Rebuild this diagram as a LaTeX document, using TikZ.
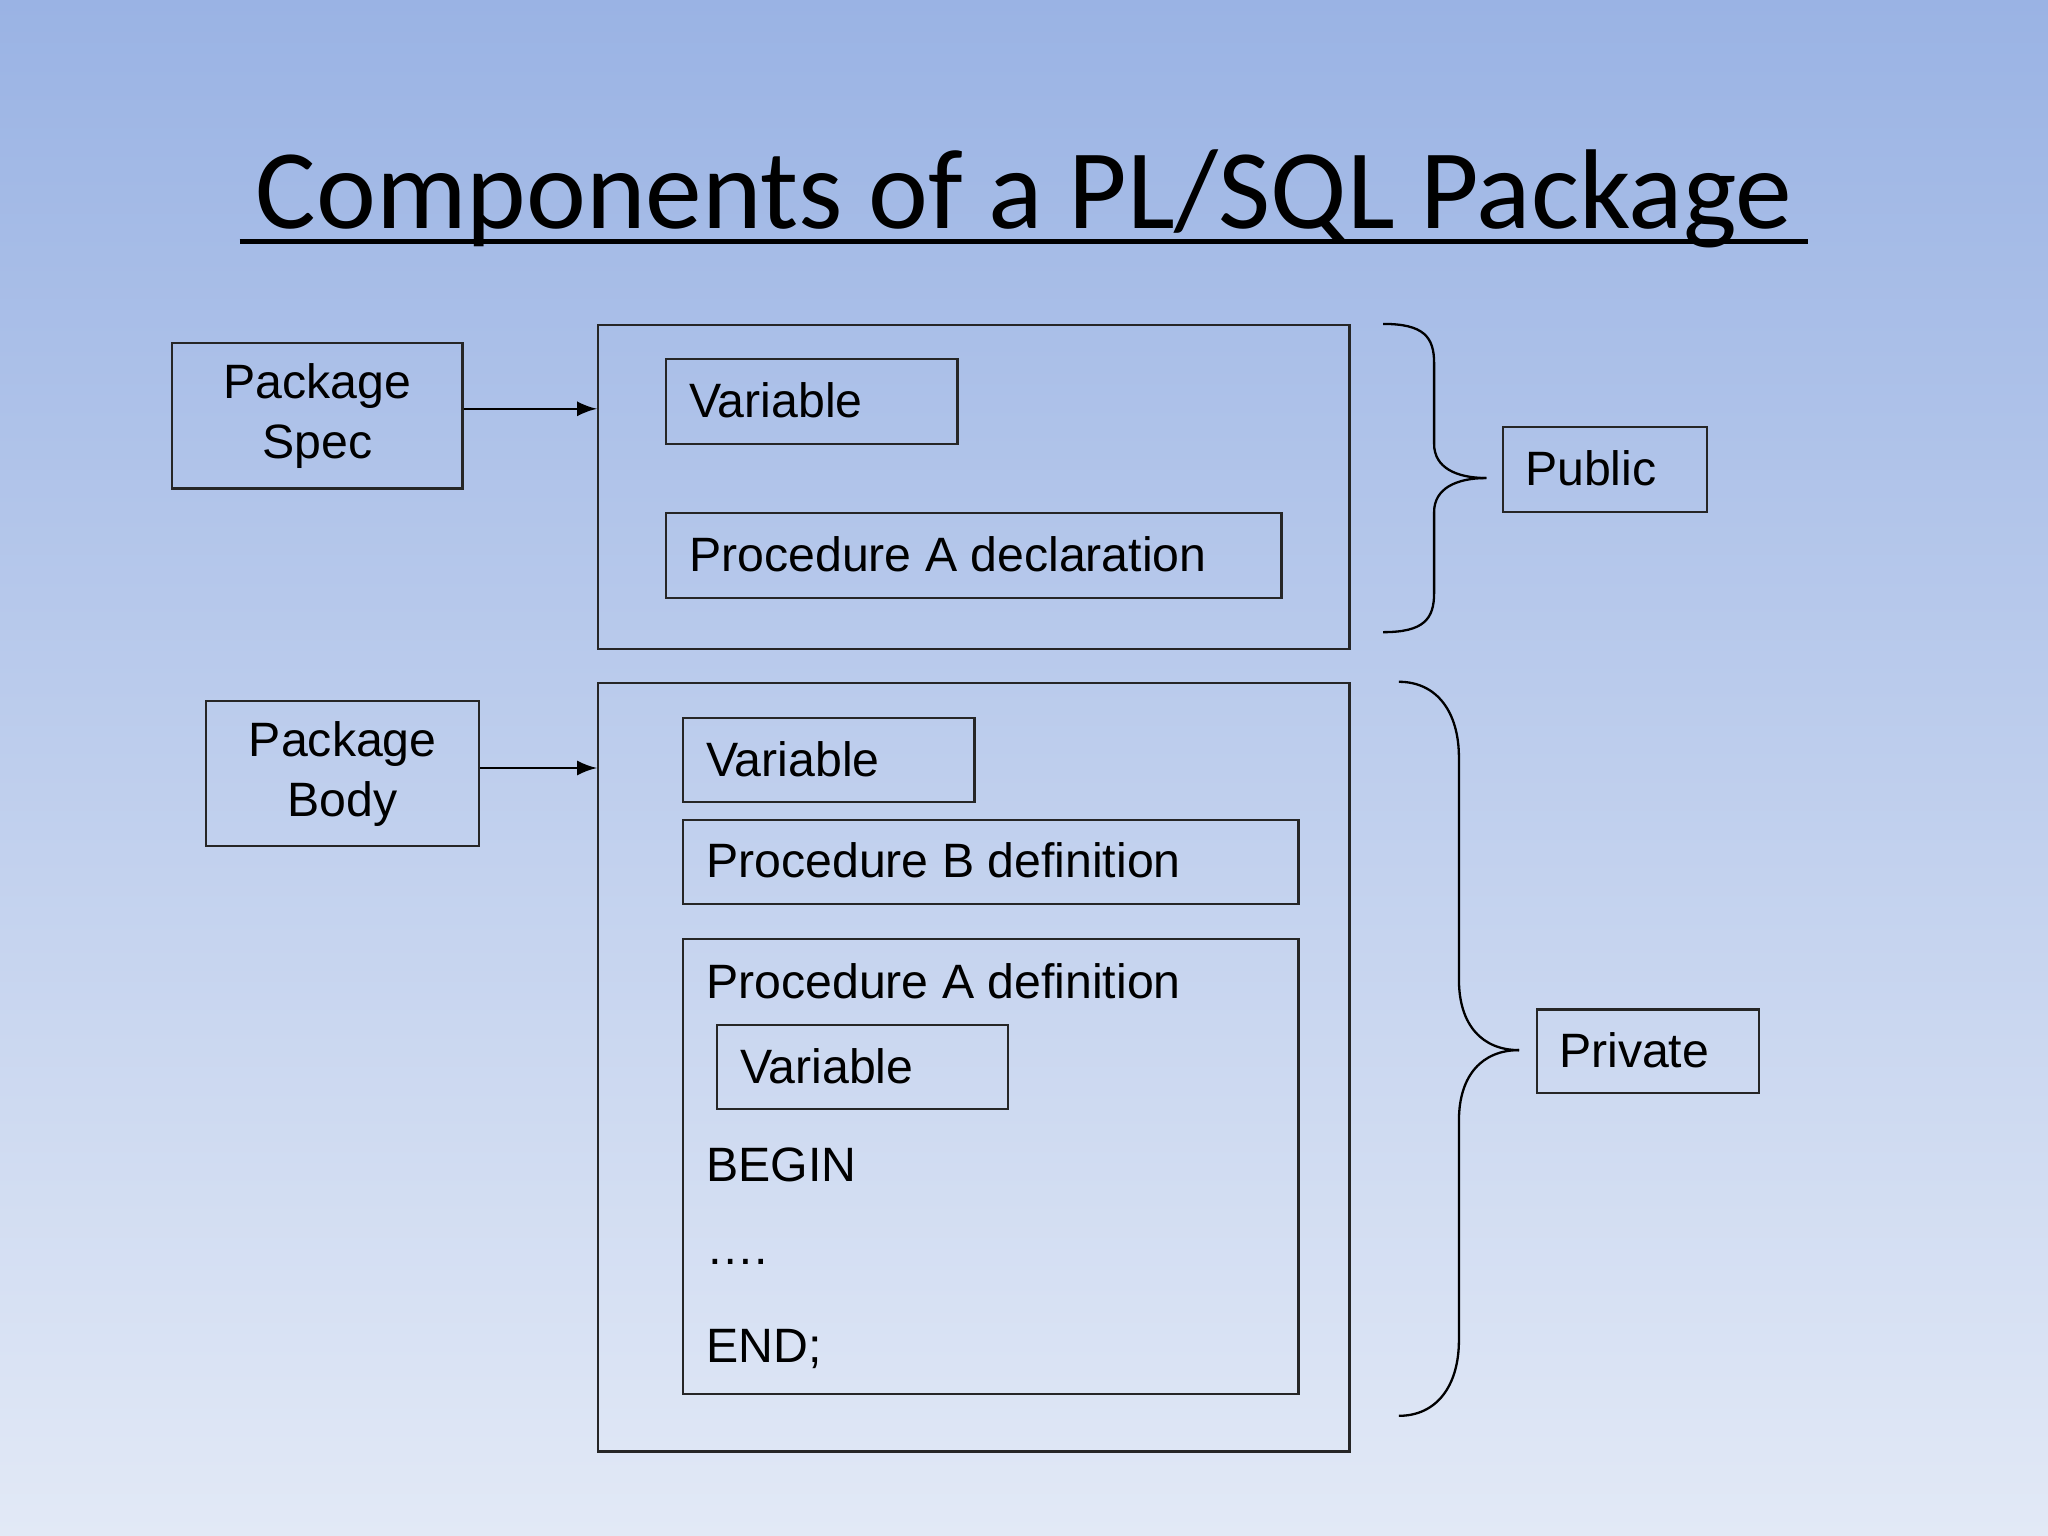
\documentclass[tikz,border=0pt]{standalone}
\usepackage{fontspec}
\setmainfont{Liberation Sans}
\newfontfamily\titlefont{Carlito}
\begin{document}
\begin{tikzpicture}[x=0.01cm,y=-0.01cm,
  box/.style={draw=black!85,line width=0.5pt,anchor=north west,inner sep=0pt},
  lbl/.style={font=\fontsize{10.5}{12.5}\selectfont,anchor=west,inner sep=0pt},
  arr/.style={-latex,line width=0.5pt},
  brace/.style={line width=0.5pt}]
\shade[top color={rgb,255:red,154;green,179;blue,228},bottom color={rgb,255:red,226;green,233;blue,246}] (0,0) rectangle (1568,1176);
\useasboundingbox (0,0) rectangle (1568,1176);
\node[font=\titlefont\fontsize{24.7}{28}\selectfont,anchor=base] (title) at (784,175) {Components of a PL/SQL Package};
\draw[line width=1.1pt] (title.west |- 0,185) -- (title.east |- 0,185);
% spec
\node[box,minimum width=22.2mm,minimum height=11.1mm,align=center,font=\fontsize{10.5}{13}\selectfont] (spec) at (131,262) {Package\\Spec};
\node[box,minimum width=57.5mm,minimum height=24.8mm] (specbox) at (457,248) {};
\node[box,minimum width=22.3mm,minimum height=6.5mm] (v1) at (509,274) {};
\node[lbl] at (527,306.5) {Variable};
\node[box,minimum width=47.1mm,minimum height=6.5mm] (pad) at (509,392) {};
\node[lbl] at (527,424.5) {Procedure A declaration};
\coordinate (sa) at (457,313);
\draw[arr] (spec.east |- sa) -- (sa);
% public brace
\coordinate (pb1) at (1059,248);
\coordinate (pb2) at (1059,484);
\coordinate (ptip) at (1138,366);
\draw[brace] (pb1) .. controls (1090,248) and (1098,258) .. (1098,278) -- (1098,340) .. controls (1098,358) and (1115,366) .. (ptip);
\draw[brace] (pb2) .. controls (1090,484) and (1098,474) .. (1098,454) -- (1098,392) .. controls (1098,374) and (1115,366) .. (ptip);
\node[box,minimum width=15.6mm,minimum height=6.5mm] (pub) at (1150,326) {};
\node[lbl] at (1167,358.5) {Public};
% body
\node[box,minimum width=20.9mm,minimum height=11.1mm,align=center,font=\fontsize{10.5}{13}\selectfont] (body) at (157,536) {Package\\Body};
\node[box,minimum width=57.5mm,minimum height=58.8mm] (bodybox) at (457,522) {};
\coordinate (ba) at (457,588);
\draw[arr] (body.east |- ba) -- (ba);
\node[box,minimum width=22.3mm,minimum height=6.4mm] (v2) at (522,549) {};
\node[lbl] at (540,581) {Variable};
\node[box,minimum width=47.1mm,minimum height=6.4mm] (pbd) at (522,627) {};
\node[lbl] at (540,659) {Procedure B definition};
\node[box,minimum width=47.1mm,minimum height=34.8mm] (pad2) at (522,718) {};
\node[lbl] at (540,751) {Procedure A definition};
\node[box,minimum width=22.3mm,minimum height=6.4mm] (v3) at (548,784) {};
\node[lbl] at (566,816) {Variable};
\node[lbl] at (540,892) {BEGIN};
\node[lbl] at (540,966) {\textellipsis.};
\node[lbl] at (540,1033) {END;};
% private brace
\coordinate (qb1) at (1071,522);
\coordinate (qb2) at (1071,1084);
\coordinate (qtip) at (1163,804);
\draw[brace] (qb1) .. controls (1100,522) and (1117,545) .. (1117,580) -- (1117,750) .. controls (1117,785) and (1135,804) .. (qtip);
\draw[brace] (qb2) .. controls (1100,1084) and (1117,1061) .. (1117,1026) -- (1117,858) .. controls (1117,823) and (1135,804) .. (qtip);
\node[box,minimum width=17mm,minimum height=6.4mm] (priv) at (1176,772) {};
\node[lbl] at (1193,804) {Private};
\end{tikzpicture}
\end{document}
